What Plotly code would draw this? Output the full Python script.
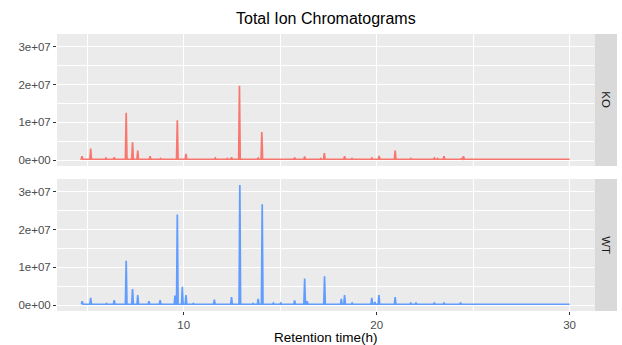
import plotly.graph_objects as go

# ---- data ----
baseline = 2.0e5
run_start = 4.70
run_end = 30.0

ko_peak_time = [4.73, 5.18, 5.97, 6.40, 7.02, 7.35, 7.62, 8.26, 8.80, 9.67, 10.12,
                11.64, 12.26, 12.48, 12.89, 13.86, 14.05, 15.75, 16.27, 17.10, 17.29,
                18.34, 18.72, 19.75, 20.13, 20.96, 21.77, 22.99, 23.16, 23.49, 24.40, 24.50]
ko_peak_height = [1.0e6, 3.0e6, 0.5e6, 0.7e6, 12.5e6, 4.7e6, 2.5e6, 1.0e6, 0.4e6, 10.5e6, 1.6e6,
                  0.5e6, 0.4e6, 0.7e6, 19.7e6, 0.5e6, 7.4e6, 0.6e6, 0.9e6, 0.4e6, 1.8e6,
                  1.0e6, 0.4e6, 0.5e6, 1.1e6, 2.5e6, 0.4e6, 0.5e6, 0.4e6, 1.0e6, 0.4e6, 1.0e6]

wt_peak_time = [4.74, 5.18, 6.00, 6.40, 7.02, 7.35, 7.62, 8.20, 8.78, 9.55, 9.67, 9.93,
                10.12, 10.50, 11.59, 12.48, 12.91, 13.60, 13.86, 14.07, 14.65, 15.03,
                15.75, 16.27, 16.40, 17.30, 18.17, 18.34, 18.73, 19.75, 19.91, 20.12,
                20.96, 21.77, 22.04, 22.99, 23.49, 24.35]
wt_peak_height = [1.0e6, 1.9e6, 0.4e6, 1.3e6, 11.7e6, 4.2e6, 2.6e6, 1.0e6, 1.3e6, 2.5e6, 24.0e6, 4.8e6,
                  2.6e6, 0.4e6, 1.4e6, 2.1e6, 31.8e6, 0.4e6, 1.6e6, 26.7e6, 0.5e6, 0.5e6,
                  1.2e6, 7.0e6, 1.0e6, 7.6e6, 1.6e6, 2.6e6, 0.5e6, 1.9e6, 0.8e6, 2.6e6,
                  2.1e6, 0.5e6, 0.5e6, 0.5e6, 0.5e6, 0.6e6]

samples = ["KO", "WT"]
colors = {"KO": "#F8766D", "WT": "#619CFF"}

x_tick_vals = [10, 20, 30]
y_tick_vals = [0, 1e7, 2e7, 3e7]
y_tick_text = ["0e+00", "1e+07", "2e+07", "3e+07"]

title_text = "Total Ion Chromatograms"
x_title = "Retention time(h)"


def chromatogram(times, heights, half_width=0.04):
    xs, ys = [run_start], [baseline]
    for t, h in zip(times, heights):
        xs += [t - half_width, t, t + half_width]
        ys += [baseline, h, baseline]
    xs.append(run_end)
    ys.append(baseline)
    return xs, ys


ko_x, ko_y = chromatogram(ko_peak_time, ko_peak_height)
wt_x, wt_y = chromatogram(wt_peak_time, wt_peak_height)

# ggplot-like expansion (5%)
xmin, xmax = run_start, run_end
xr = [xmin - 0.05 * (xmax - xmin), xmax + 0.05 * (xmax - xmin)]
ymax = max(max(ko_y), max(wt_y))
ymin = 0
yr = [ymin - 0.05 * (ymax - ymin), ymax + 0.05 * (ymax - ymin)]

# ---- layout geometry ----
W, H = 622, 345
ml, mr, mt, mb = 57, 5, 34, 34
pw = W - ml - mr
ph = H - mt - mb
panel_right = (594 - ml) / pw
strip_left = (594.5 - ml) / pw
panel_h = 132 / ph
top_dom = [1 - panel_h, 1]
bot_dom = [0, panel_h]

fig = go.Figure()
fig.add_trace(go.Scatter(x=ko_x, y=ko_y, mode="lines", xaxis="x2", yaxis="y2",
                         line=dict(color=colors["KO"], width=1.7), showlegend=False,
                         hoverinfo="skip"))
fig.add_trace(go.Scatter(x=wt_x, y=wt_y, mode="lines", xaxis="x", yaxis="y",
                         line=dict(color=colors["WT"], width=1.7), showlegend=False,
                         hoverinfo="skip"))

font_fam = "Liberation Sans, Arial, sans-serif"
tickfont = dict(family=font_fam, size=11.5, color="#4D4D4D")

xcommon = dict(range=xr, domain=[0, panel_right], showgrid=True, gridcolor="white",
               gridwidth=1.4, zeroline=False, showline=False,
               tickmode="array", tickvals=x_tick_vals,
               minor=dict(tickmode="linear", tick0=0, dtick=5, showgrid=True,
                          gridcolor="white", gridwidth=0.6, ticks=""))
ycommon = dict(range=yr, showgrid=True, gridcolor="white", gridwidth=1.4,
               zeroline=False, showline=False, tickmode="array",
               tickvals=y_tick_vals, ticktext=y_tick_text,
               ticks="outside", ticklen=3, tickwidth=1, tickcolor="#333333",
               tickfont=tickfont,
               minor=dict(tickmode="linear", tick0=0, dtick=5e6, showgrid=True,
                          gridcolor="white", gridwidth=0.6, ticks=""))

fig.update_layout(
    width=W, height=H,
    margin=dict(l=ml, r=mr, t=mt, b=mb),
    paper_bgcolor="white", plot_bgcolor="#EBEBEB",
    showlegend=False,
    xaxis=dict(**xcommon, anchor="y", ticks="outside", ticklen=3, tickwidth=1,
               tickcolor="#333333", tickfont=tickfont, showticklabels=True),
    xaxis2=dict(**xcommon, anchor="y2", matches="x", showticklabels=False, ticks=""),
    yaxis=dict(**ycommon, domain=bot_dom, anchor="x"),
    yaxis2=dict(**ycommon, domain=top_dom, anchor="x2"),
)

shapes = []
annotations = []
for dom, name in [(top_dom, "KO"), (bot_dom, "WT")]:
    shapes.append(dict(type="rect", xref="paper", yref="paper",
                       x0=strip_left, x1=1, y0=dom[0], y1=dom[1],
                       fillcolor="#D9D9D9", line=dict(width=0), layer="below"))
    annotations.append(dict(text=name, xref="paper", yref="paper",
                            x=(strip_left + 1) / 2, y=(dom[0] + dom[1]) / 2,
                            showarrow=False, textangle=90,
                            font=dict(family=font_fam, size=11.5, color="#1A1A1A"),
                            xanchor="center", yanchor="middle"))

annotations.append(dict(text=title_text, xref="paper", yref="paper",
                        x=panel_right / 2, y=1 + 15 / ph, showarrow=False,
                        font=dict(family=font_fam, size=16, color="black"),
                        xanchor="center", yanchor="middle"))
annotations.append(dict(text=x_title, xref="paper", yref="paper",
                        x=panel_right / 2, y=-(337.5 - (H - mb)) / ph,
                        showarrow=False,
                        font=dict(family=font_fam, size=13.5, color="black"),
                        xanchor="center", yanchor="middle"))

fig.update_layout(shapes=shapes, annotations=annotations)
fig.write_html("out.html")
